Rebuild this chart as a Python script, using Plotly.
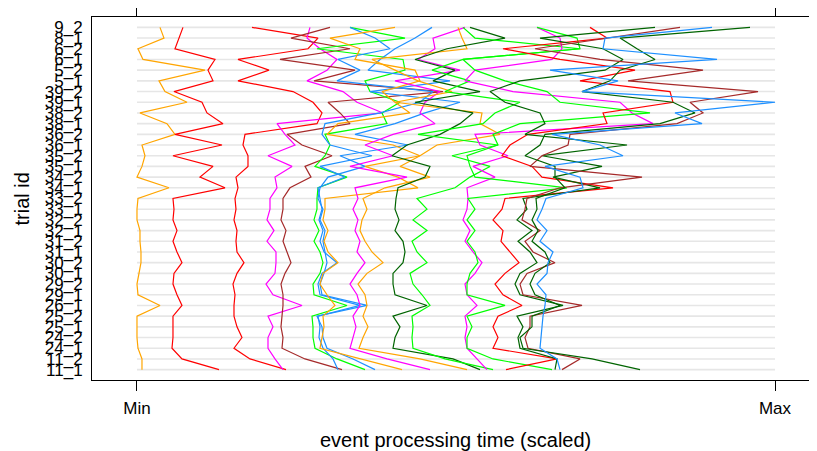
import plotly.graph_objects as go

# Trial ids (one parallel axis per trial), bottom to top
trial_ids = ["11_1", "11_2", "24_1", "24_2", "25_1", "25_2", "26_1", "29_1", "29_2",
             "30_1", "30_2", "31_1", "31_2", "32_1", "32_2", "33_1", "33_2", "34_1",
             "34_2", "35_1", "35_2", "36_1", "36_2", "38_1", "38_2", "39_1", "39_2",
             "5_1", "5_2", "6_1", "6_2", "8_1", "9_2"]

axis_labels = ["Min", "Max"]

# Raw event processing times (arbitrary units), one value per trial id
orange_1 = [142, 142, 138, 137, 137, 137, 160, 138, 137, 139, 141, 141, 140, 140, 137, 137, 138,
            169, 137, 142, 145, 142, 175, 167, 140, 187, 165, 159, 205, 143, 138, 164, 160]
red_1 = [219, 182, 172, 173, 173, 173, 182, 177, 173, 174, 182, 177, 173, 177, 173, 174, 173,
         225, 200, 213, 173, 222, 175, 223, 207, 202, 174, 213, 208, 215, 175, 179, 183]
red_2 = [286, 250, 234, 242, 237, 234, 234, 235, 233, 237, 244, 237, 236, 237, 234, 236, 235,
         238, 236, 248, 248, 243, 245, 317, 322, 313, 293, 238, 269, 238, 308, 318, 252]
magenta_1 = [283, 275, 268, 268, 273, 268, 302, 273, 266, 275, 276, 276, 267, 274, 267, 270, 270,
             277, 275, 292, 268, 295, 285, 277, 383, 357, 343, 307, 327, 337, 320, 307, 310]
brown_1 = [342, 305, 282, 283, 281, 282, 283, 283, 281, 285, 291, 287, 283, 286, 281, 283, 283,
           290, 311, 305, 332, 302, 287, 350, 340, 328, 443, 314, 355, 280, 350, 291, 330]
green_1 = [365, 337, 315, 313, 313, 312, 347, 314, 313, 320, 323, 320, 314, 319, 314, 317, 317,
           318, 347, 315, 325, 330, 325, 387, 382, 400, 370, 365, 405, 403, 317, 405, 350]
blue_1 = [338, 333, 323, 319, 320, 318, 360, 320, 318, 322, 337, 324, 320, 323, 319, 322, 320,
          318, 345, 320, 372, 330, 322, 325, 380, 420, 433, 337, 360, 338, 390, 375, 350]
blue_2 = [375, 353, 327, 323, 322, 317, 367, 322, 320, 324, 327, 325, 323, 325, 320, 323, 318,
          320, 328, 365, 340, 408, 355, 395, 425, 460, 370, 450, 368, 380, 395, 415, 432]
orange_2 = [402, 360, 320, 322, 324, 323, 335, 327, 320, 323, 338, 328, 324, 328, 323, 325, 325,
            418, 398, 365, 420, 393, 327, 338, 410, 395, 382, 420, 415, 355, 360, 330, 395]
magenta_2 = [430, 387, 350, 353, 356, 353, 360, 357, 350, 357, 365, 357, 360, 355, 358, 353, 358,
             355, 407, 350, 393, 365, 393, 435, 420, 425, 440, 395, 460, 418, 435, 433, 465]
orange_3 = [467, 420, 359, 363, 368, 363, 367, 365, 358, 367, 383, 372, 365, 360, 362, 367, 363,
            385, 430, 400, 420, 437, 500, 480, 482, 395, 452, 418, 395, 372, 467, 462, 458]
darkgreen_1 = [480, 453, 393, 395, 400, 393, 427, 395, 393, 393, 403, 405, 403, 395, 399, 395, 396,
               398, 425, 430, 392, 407, 440, 460, 473, 415, 480, 433, 455, 415, 447, 505, 470]
green_2 = [493, 445, 413, 412, 413, 412, 430, 422, 413, 410, 427, 417, 412, 427, 413, 427, 417,
           455, 470, 490, 452, 498, 418, 483, 495, 520, 445, 470, 432, 463, 580, 475, 463]
magenta_3 = [487, 477, 467, 465, 467, 465, 477, 467, 465, 475, 482, 473, 465, 470, 463, 467, 468,
             467, 495, 473, 508, 480, 475, 653, 632, 620, 513, 465, 475, 552, 562, 560, 537]
green_3 = [552, 493, 467, 467, 472, 467, 505, 467, 467, 470, 478, 475, 467, 475, 467, 475, 468,
           567, 475, 470, 467, 498, 493, 520, 650, 560, 547, 505, 475, 463, 580, 577, 537]
red_3 = [506, 557, 493, 498, 493, 498, 522, 503, 495, 505, 519, 510, 501, 503, 493, 502, 505,
         613, 542, 532, 502, 510, 528, 607, 603, 673, 670, 580, 635, 560, 503, 607, 590]
darkgreen_2 = [555, 557, 520, 518, 523, 517, 563, 520, 515, 520, 537, 530, 518, 532, 517, 527, 523,
               600, 553, 602, 542, 627, 525, 545, 540, 505, 490, 520, 605, 623, 603, 540, 655]
brown_2 = [562, 580, 528, 525, 530, 530, 582, 523, 520, 527, 555, 533, 525, 540, 522, 525, 527,
           560, 642, 530, 542, 568, 570, 677, 703, 690, 758, 628, 703, 600, 535, 610, 680]
darkgreen_3 = [640, 592, 523, 520, 532, 532, 560, 535, 530, 535, 550, 545, 532, 538, 532, 537, 536,
               565, 555, 555, 525, 540, 545, 660, 695, 673, 582, 610, 620, 655, 637, 620, 750]
blue_3 = [560, 557, 540, 541, 542, 543, 545, 546, 537, 547, 548, 553, 540, 547, 537, 542, 546,
          583, 580, 545, 623, 600, 552, 702, 675, 775, 582, 618, 550, 717, 603, 605, 712]

series_values = [orange_1, red_1, red_2, magenta_1, brown_1, green_1, blue_1, blue_2,
                 orange_2, magenta_2, orange_3, darkgreen_1, green_2, magenta_3, green_3,
                 red_3, darkgreen_2, brown_2, darkgreen_3, blue_3]
series_colors = ["#FFA500", "#FF0000", "#FF0000", "#FF00FF", "#A52A2A", "#00FF00", "#1E90FF",
                 "#1E90FF", "#FFA500", "#FF00FF", "#FFA500", "#006400", "#00FF00", "#FF00FF",
                 "#00FF00", "#FF0000", "#006400", "#A52A2A", "#006400", "#1E90FF"]

n = len(trial_ids)
for s in series_values:
    assert len(s) == n

allv = [v for s in series_values for v in s]
lo, hi = min(allv), max(allv)

def scale(vals):
    return [(v - lo) / (hi - lo) for v in vals]

ypos = list(range(n))

fig = go.Figure()

# light reference line for each parallel axis, spanning Min..Max
gx, gy = [], []
for i in ypos:
    gx += [0, 1, None]
    gy += [i, i, None]
fig.add_trace(go.Scatter(x=gx, y=gy, mode="lines",
                         line=dict(color="#E6E6E6", width=1.6),
                         hoverinfo="skip", showlegend=False))

for vals, col in zip(series_values, series_colors):
    fig.add_trace(go.Scatter(x=scale(vals), y=ypos, mode="lines",
                             line=dict(color=col, width=1.2),
                             hoverinfo="skip", showlegend=False))

font_family = "Liberation Sans, Arial, Helvetica, sans-serif"

# The page body has an 8px default margin, so the figure is sized to fill the rest
fig.update_layout(
    width=809, height=443,
    margin=dict(l=84, r=0, t=9, b=71, autoexpand=False),
    paper_bgcolor="white", plot_bgcolor="white",
    font=dict(family=font_family, color="black"),
    xaxis=dict(range=[-0.0705, 1.0658], tickmode="array", tickvals=[0, 1],
               ticktext=axis_labels, ticks="outside", ticklen=10, tickwidth=1,
               tickcolor="black", showline=True, linecolor="black", linewidth=1,
               mirror="ticks", showgrid=False, zeroline=False, automargin=False,
               tickfont=dict(size=17), ticklabelstandoff=3),
    yaxis=dict(range=[-0.97, 32.97], tickmode="array", tickvals=ypos,
               ticktext=trial_ids, ticks="", showline=True, linecolor="black",
               linewidth=1, showgrid=False, zeroline=False, automargin=False,
               tickfont=dict(size=17), ticklabelstandoff=5),
    annotations=[
        dict(text="event processing time (scaled)", xref="paper", yref="paper",
             x=0.502, y=-0.165, xanchor="center", yanchor="middle",
             showarrow=False, font=dict(size=20)),
        dict(text="trial id", xref="paper", yref="paper", x=-0.0966, y=0.5,
             xanchor="center", yanchor="middle", textangle=-90,
             showarrow=False, font=dict(size=20)),
    ],
)

fig.write_html("out.html")
